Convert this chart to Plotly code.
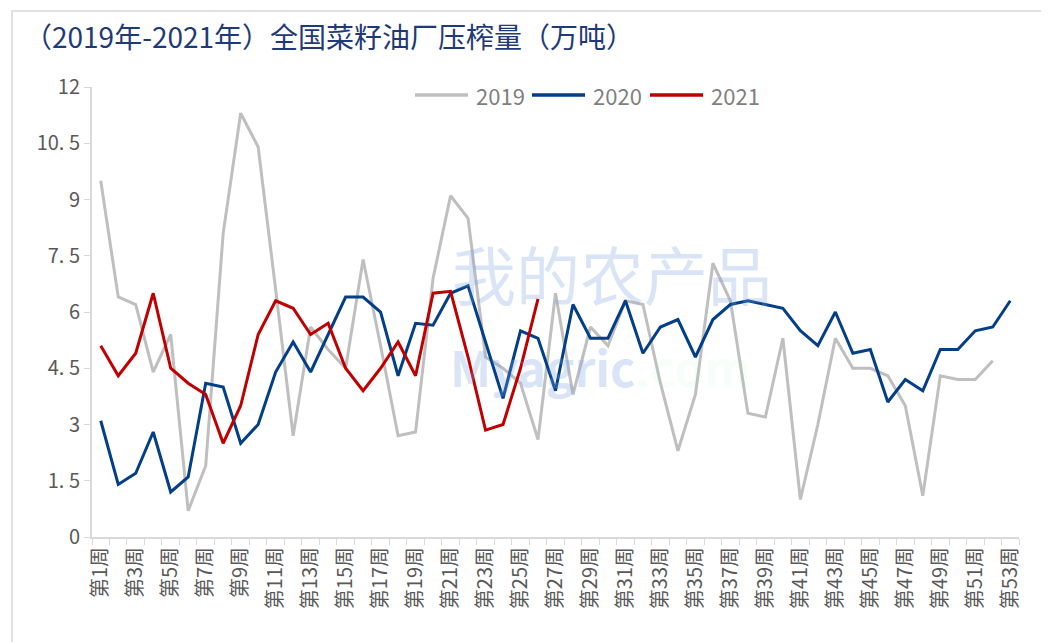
import plotly.graph_objects as go

# 周次
weeks = [f"第{i}周" for i in range(1, 54)]

# 压榨量（万吨）
y2019 = [9.5, 6.4, 6.2, 4.4, 5.4, 0.7, 1.9, 8.1, 11.3, 10.4,
         6.6, 2.7, 5.6, 5.0, 4.5, 7.4, 5.1, 2.7, 2.8, 6.9,
         9.1, 8.5, 4.8, 4.5, 4.1, 2.6, 6.5, 3.8, 5.6, 5.1,
         6.3, 6.2, 4.1, 2.3, 3.8, 7.3, 6.3, 3.3, 3.2, 5.3,
         1.0, 3.0, 5.3, 4.5, 4.5, 4.3, 3.5, 1.1, 4.3, 4.2,
         4.2, 4.7]
y2020 = [3.1, 1.4, 1.7, 2.8, 1.2, 1.6, 4.1, 4.0, 2.5, 3.0,
         4.4, 5.2, 4.4, 5.4, 6.4, 6.4, 6.0, 4.3, 5.7, 5.65,
         6.5, 6.7, 5.2, 3.7, 5.5, 5.3, 3.9, 6.2, 5.3, 5.3,
         6.3, 4.9, 5.6, 5.8, 4.8, 5.8, 6.2, 6.3, 6.2, 6.1,
         5.5, 5.1, 6.0, 4.9, 5.0, 3.6, 4.2, 3.9, 5.0, 5.0,
         5.5, 5.6, 6.3]
y2021 = [5.1, 4.3, 4.9, 6.5, 4.5, 4.1, 3.8, 2.5, 3.5, 5.4,
         6.3, 6.1, 5.4, 5.7, 4.5, 3.9, 4.5, 5.2, 4.3, 6.5,
         6.55, 4.8, 2.85, 3.0, 4.5, 6.35]

series_names = ["2019", "2020", "2021"]
series_colors = ["#BFBFBF", "#023F88", "#C00000"]

# 坐标轴刻度
y_ticks = [0, 1.5, 3, 4.5, 6, 7.5, 9, 10.5, 12]
y_ticktext = ["0", "1. 5", "3", "4. 5", "6", "7. 5", "9", "10. 5", "12"]

FONT = "Noto Sans CJK SC"
W, H = 1049, 642
OFF = 8  # 页面 body 默认边距
ML, MT = 92 - OFF, 87 - OFF
PW, PH = 927, 450
MR, MB = W - ML - PW, H - MT - PH


def px_x(p):
    # 参考图像素 -> paper 坐标
    return (p - OFF - ML) / PW


def px_y(p):
    return (MT + PH - (p - OFF)) / PH


fig = go.Figure()
for nome, ys, cor in zip(series_names, [y2019, y2020, y2021], series_colors):
    fig.add_trace(go.Scatter(x=weeks[:len(ys)], y=ys, mode="lines", name=nome,
                             line=dict(color=cor, width=3)))

fig.update_layout(
    width=W, height=H,
    margin=dict(l=ML, r=MR, t=MT, b=MB),
    paper_bgcolor="white", plot_bgcolor="white",
    font=dict(family=FONT, color="#595959"),
    showlegend=False,
)

# 只标奇数周
fig.update_xaxes(
    type="category", categoryorder="array", categoryarray=weeks,
    tickmode="array", tickvals=weeks,
    ticktext=[w if i % 2 == 0 else "" for i, w in enumerate(weeks)],
    tickson="boundaries", ticks="outside", ticklen=6, tickcolor="#D9D9D9",
    tickangle=-90, tickfont=dict(size=20, color="#595959"),
    showline=True, linecolor="#D9D9D9", linewidth=2, showgrid=False, zeroline=False,
    range=[-0.5, 52.5], automargin=False,
)
fig.update_yaxes(
    range=[0, 12], tickmode="array", tickvals=y_ticks, ticktext=y_ticktext,
    ticks="outside", ticklen=6, tickcolor="#D9D9D9",
    tickfont=dict(size=20, color="#595959"),
    showline=True, linecolor="#D9D9D9", linewidth=2, showgrid=False, zeroline=False,
    automargin=False,
)

# 图例（手绘，线段更长）
leg_x = [415, 532, 650]
for x0, nome, cor in zip(leg_x, series_names, series_colors):
    fig.add_shape(type="line", xref="paper", yref="paper",
                  x0=px_x(x0), x1=px_x(x0 + 53), y0=px_y(95), y1=px_y(95),
                  line=dict(color=cor, width=3.5))
    fig.add_annotation(text=nome, xref="paper", yref="paper",
                       x=px_x(x0 + 59), y=px_y(95), xanchor="left", yanchor="middle",
                       showarrow=False, font=dict(size=22, color="#7F7F7F"))

# 标题
fig.add_annotation(text="（2019年-2021年）全国菜籽油厂压榨量（万吨）",
                   xref="paper", yref="paper", x=px_x(22), y=px_y(36),
                   xanchor="left", yanchor="middle", showarrow=False,
                   font=dict(family=FONT, size=28, color="#1F3A78"))

# 水印
fig.add_annotation(text="我的农产品", xref="paper", yref="paper",
                   x=px_x(612), y=px_y(272), xanchor="center", yanchor="middle", showarrow=False,
                   font=dict(family=FONT, size=64, color="rgba(120,160,225,0.28)"))
fig.add_annotation(text="<b>Myagric</b><b><span style='color:rgba(140,230,150,0.3)'>.com</span></b>",
                   xref="paper", yref="paper",
                   x=px_x(600), y=px_y(366), xanchor="center", yanchor="middle", showarrow=False,
                   font=dict(family=FONT, size=48, color="rgba(120,160,225,0.28)"))

# 外框
fig.add_shape(type="rect", xref="paper", yref="paper",
              x0=px_x(12), y0=px_y(680), x1=px_x(1090), y1=px_y(11),
              line=dict(color="#D9D9D9", width=1.5), layer="below")

fig.write_html("out.html")
